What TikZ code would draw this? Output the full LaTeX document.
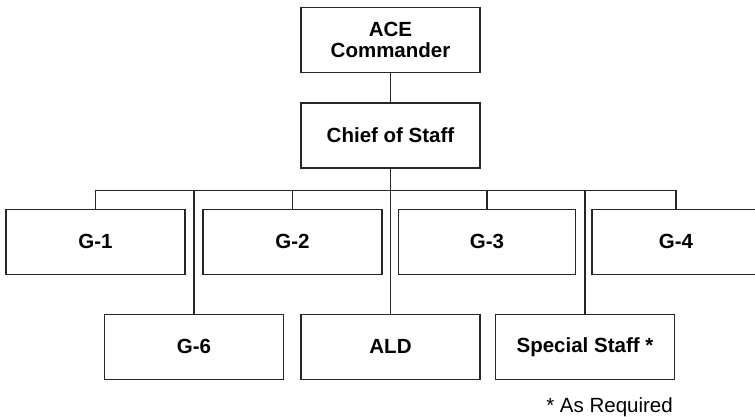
\documentclass[tikz,border=0pt]{standalone}
\usepackage{fontspec}
\setmainfont{Liberation Sans}
\begin{document}
\begin{tikzpicture}[x=1pt,y=-1pt,
    staffbox/.style={draw=black!85, line width=1.1pt, minimum width=179pt,
      minimum height=65pt, inner sep=0pt, align=center,
      font=\fontsize{20.5}{20.7}\selectfont\bfseries},
    link/.style={draw=black!85, line width=1.1pt}]
  \useasboundingbox (0,0) rectangle (755,417);
  \clip (0,0) rectangle (755,417);
  % command chain
  \node[staffbox] (ace) at (390.5,39.8) {ACE\\Commander};
  \node[staffbox] (cos) at (390.5,135.5) {Chief of Staff};
  \coordinate (bus) at (390.5,190.7);
  % first row
  \node[staffbox] (g1) at (95.5,241.8) {G-1};
  \node[staffbox] (g2) at (292.5,241.8) {G-2};
  \node[staffbox, minimum width=177pt] (g3) at (487,241.8) {G-3};
  \node[staffbox, minimum width=168pt] (g4) at (676,241.8) {G-4};
  % second row
  \node[staffbox] (g6) at (194,346.8) {G-6};
  \node[staffbox] (ald) at (390.5,346.8) {ALD};
  \node[staffbox] (spec) at (585,346.8) {Special Staff *};
  \node[anchor=base east, inner sep=0pt, font=\fontsize{20.5}{20.7}\selectfont] (note) at (673,412) {* As Required};
  % connectors
  \draw[link] (ace) -- (cos);
  \draw[link] (cos) -- (bus);
  \draw[link] (g1.north) |- (bus) -| (g4.north);
  \foreach \n in {g2,g3}
    \draw[link] (\n.north) -- (\n.north |- bus);
  \foreach \n in {g6,ald,spec}
    \draw[link] (\n.north) -- (\n.north |- bus);
\end{tikzpicture}
\end{document}
